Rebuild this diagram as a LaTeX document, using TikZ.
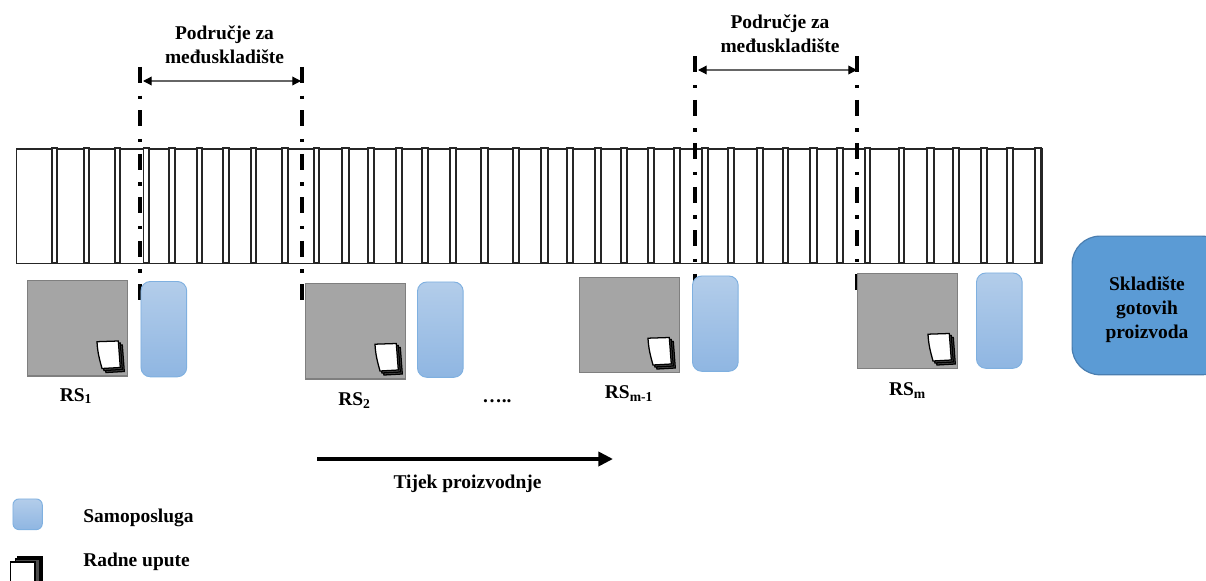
\documentclass[tikz,border=0pt]{standalone}
\usepackage{fontspec}
\setmainfont{Liberation Serif}
\usetikzlibrary{arrows.meta}
\definecolor{gboxf}{HTML}{A5A5A5}
\definecolor{gboxd}{HTML}{7F7F7F}
\definecolor{btop}{HTML}{B3CDEA}
\definecolor{bbot}{HTML}{8FB6E2}
\definecolor{bedge}{HTML}{7FB0E0}
\definecolor{sfill}{HTML}{5B9BD5}
\definecolor{sedge}{HTML}{4A7EB0}
\tikzset{
  slat/.style={draw=black!85,fill=white,line width=0.9pt},
  bar/.style={draw=black!85,fill=white,line width=0.95pt,anchor=north west,inner sep=0pt,minimum width=769.5pt,minimum height=85.5pt},
  dashln/.style={line width=2.9pt,dash pattern=on 12pt off 9.4pt on 2.6pt off 8.6pt},
  dim/.style={draw=black!60,line width=0.95pt,{Triangle[length=6.5pt,width=6.5pt,black]}-{Triangle[length=6.5pt,width=6.5pt,black]}},
  flow/.style={line width=3.2pt,-{Triangle[length=11pt,width=10.5pt]}},
  machine/.style={draw=gboxd,fill=gboxf,line width=1.05pt,anchor=north west,inner sep=0pt,minimum width=75pt,minimum height=71.5pt},
  selfserve/.style={draw=bedge,top color=btop,bottom color=bbot,line width=0.7pt,rounded corners=7pt,anchor=north west,inner sep=0pt,minimum width=34.3pt,minimum height=71.5pt},
  legendserve/.style={selfserve,rounded corners=4.5pt,minimum width=22pt,minimum height=23pt},
  store/.style={draw=sedge,fill=sfill,line width=0.9pt,rounded corners=21pt,anchor=north west,inner sep=0pt,minimum width=118pt,minimum height=104pt},
  lab/.style={font=\fontsize{14.6pt}{18pt}\selectfont\bfseries,align=center,inner sep=0pt},
  leftlab/.style={lab,anchor=west},
  sheet/.style={draw=black,fill=white,line width=0.95pt},
  backsheet/.style={draw=black,fill=black!70,line width=0.95pt},
  pics/docs/.style={code={
    \draw[backsheet,shift={(4,4)}] (0,0.7) -- (21.3,0) -- (23.3,26.5) -- (5,27.5) .. controls (3,20) and (0.5,12) .. (0,0.7) -- cycle;
    \draw[backsheet,shift={(2,2)}] (0,0.7) -- (21.3,0) -- (23.3,26.5) -- (5,27.5) .. controls (3,20) and (0.5,12) .. (0,0.7) -- cycle;
    \draw[sheet] (0,0.7) -- (21.3,0) -- (23.3,26.5) -- (5,27.5) .. controls (3,20) and (0.5,12) .. (0,0.7) -- cycle;
  }},
}
\begin{document}
\begin{tikzpicture}[x=0.75pt,y=-0.75pt]
\useasboundingbox (0,0) rectangle (1206,581);
\clip (0,0) rectangle (1206,581);
% conveyor
\node[bar] (conveyor) at (16,148.5) {};
\foreach \a/\b in {52/57,84/89,115/120,143.5/149,169/175,197/202,223/229,251/256,282/288,314/319,342/349,368/374,396/402,422/428,450/456,481/488,513/519,541/548,567/573,595/601,621/627,648/654,674/680,702/708,728/734,757/763,783/788,810/817,837/843,865/870,899/904,927/934,953/959,981/987,1007/1013,1035/1041}{
  \draw[slat] (\a,148) rectangle (\b,263);
}
% boundaries of the buffer zones
\coordinate (a1t) at (140,67);  \coordinate (a1b) at (140,300);
\coordinate (a2t) at (301.8,67);\coordinate (a2b) at (301.8,300);
\coordinate (b1t) at (695,56.5);\coordinate (b1b) at (695,290);
\coordinate (b2t) at (857,56.5);\coordinate (b2b) at (857,290);
\draw[dashln] (a1t) -- (a1b);
\draw[dashln] (a2t) -- (a2b);
\draw[dashln] (b1t) -- (b1b);
\draw[dashln] (b2t) -- (b2b);
\coordinate (a1m) at (143,81); \coordinate (a2m) at (301,81);
\coordinate (b1m) at (698,70); \coordinate (b2m) at (857,70);
\draw[dim] (a1m) -- (a2m);
\draw[dim] (b1m) -- (b2m);
\node[lab] (zoneA) at (224.5,45) {Područje za\\međuskladište};
\node[lab] (zoneB) at (780,34) {Područje za\\međuskladište};
% stations
\node[machine] (m1) at (27,280) {};
\node[machine] (m2) at (305,283) {};
\node[machine] (m3) at (579,276.5) {};
\node[machine] (m4) at (857,272.5) {};
\node[selfserve] (s1) at (140.5,281) {};
\node[selfserve] (s2) at (417,281.5) {};
\node[selfserve] (s3) at (692,275.5) {};
\node[selfserve] (s4) at (976,272.5) {};
\pic at (97,341) {docs};
\pic at (375,343.5) {docs};
\pic at (648,337.5) {docs};
\pic at (928,333.5) {docs};
\node[lab] (rs1) at (76,396) {RS\textsubscript{1}};
\node[lab] (rs2) at (354.5,400.5) {RS\textsubscript{2}};
\node[lab] (rs3) at (629,393.5) {RS\textsubscript{m-1}};
\node[lab] (rs4) at (907.5,390.5) {RS\textsubscript{m}};
\node[lab] (dots) at (497,401) {…..};
% store
\node[store] (st) at (1071.5,235.5) {};
\node[lab] (sttext) at (1147,310) {Skladište\\gotovih\\proizvoda};
% flow
\coordinate (f1) at (317,459); \coordinate (f2) at (613,459);
\draw[flow] (f1) -- (f2);
\node[lab] (flowtext) at (467.5,484) {Tijek proizvodnje};
% legend
\node[legendserve] (ls) at (12.5,498.5) {};
\node[leftlab] (lt1) at (83,518) {Samoposluga};
\draw[sheet] (18,557) rectangle (42,590);
\draw[backsheet] (15.5,559) rectangle (40,590);
\draw[sheet] (10.5,562) -- (35,562) -- (35,590) -- (10.5,590) -- cycle;
\node[leftlab] (lt2) at (83,562) {Radne upute};
\end{tikzpicture}
\end{document}
